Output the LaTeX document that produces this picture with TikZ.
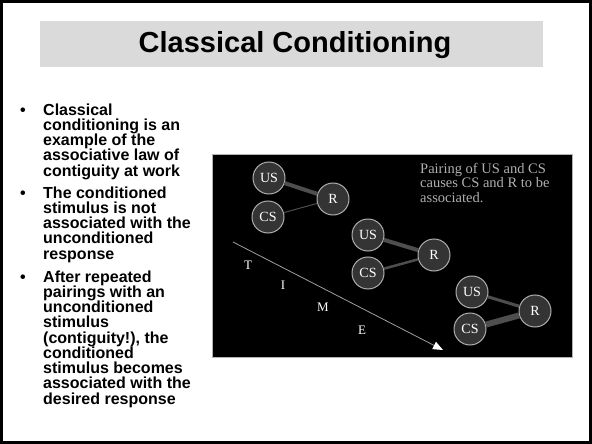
\documentclass[tikz,border=0pt]{standalone}
\usepackage{fontspec}
\setmainfont{Liberation Sans}
\newfontfamily\panelfont{Liberation Serif}
\usepackage{xcolor}
\usetikzlibrary{arrows.meta}
\definecolor{titlegray}{RGB}{218,218,218}
\definecolor{nodegray}{RGB}{52,52,52}
\definecolor{ringgray}{RGB}{175,175,175}
\definecolor{linkgray}{RGB}{78,78,78}
\definecolor{capgray}{RGB}{175,175,175}
\tikzset{
  stim/.style={circle, draw=ringgray, line width=1pt, fill=nodegray, text=white, minimum size=32pt, inner sep=0pt, font=\panelfont\fontsize{14}{14}\selectfont},
  link/.style={draw=linkgray},
  bodytext/.style={anchor=base west, align=left, inner sep=0pt, font=\bfseries\fontsize{16}{15.25}\selectfont},
  timeletter/.style={text=white, inner sep=0pt, font=\panelfont\fontsize{13}{13}\selectfont}
}
\begin{document}
\begin{tikzpicture}[x=1pt,y=-1pt]
\useasboundingbox (0,0) rectangle (592,444);
\fill[white] (0,0) rectangle (592,444);
\draw[line width=3pt] (1.5,1.5) rectangle (590.5,442.5);
\fill[titlegray] (40,21) rectangle (543,67);
\node[anchor=base, inner sep=0pt, font=\bfseries\fontsize{29}{29}\selectfont] (title) at (295,53) {Classical Conditioning};
\node[bodytext] (dot1) at (20,115) {•}; \node[bodytext] (item1) at (43,176) {Classical\\conditioning is an\\example of the\\associative law of\\contiguity at work};
\node[bodytext] (dot2) at (20,198) {•}; \node[bodytext] (item2) at (43,259) {The conditioned\\stimulus is not\\associated with the\\unconditioned\\response};
\node[bodytext] (dot3) at (20,282) {•}; \node[bodytext] (item3) at (43,404) {After repeated\\pairings with an\\unconditioned\\stimulus\\(contiguity!), the\\conditioned\\stimulus becomes\\associated with the\\desired response};
\draw[fill=black, draw=gray!60, line width=0.8pt] (212,154) rectangle (572,357);
\node[anchor=base west, align=left, inner sep=0pt, text=capgray, font=\panelfont\fontsize{14.5}{14.5}\selectfont] (caption) at (420,202) {Pairing of US and CS\\causes CS and R to be\\associated.};
\coordinate (t0) at (233,242); \coordinate (t1) at (443,350);
\draw[gray!75, line width=0.8pt, -{Triangle[color=white, length=10pt, width=8pt]}] (t0) -- (t1);
\node[timeletter] (tT) at (248,265) {T}; \node[timeletter] (tI) at (283,285) {I}; \node[timeletter] (tM) at (323,307) {M}; \node[timeletter] (tE) at (362,330) {E};
\node[stim] (us1) at (269,178) {US}; \node[stim] (cs1) at (268,217) {CS}; \node[stim] (r1) at (333,199) {R};
\draw[link, line width=4pt] (us1) -- (r1); \draw[link, line width=1pt] (cs1) -- (r1);
\node[stim] (us2) at (368,235) {US}; \node[stim] (cs2) at (368,273) {CS}; \node[stim] (r2) at (434,255) {R};
\draw[link, line width=4pt] (us2) -- (r2); \draw[link, line width=2.5pt] (cs2) -- (r2);
\node[stim] (us3) at (472,292) {US}; \node[stim] (cs3) at (470,329) {CS}; \node[stim] (r3) at (535,311) {R};
\draw[link, line width=3pt] (us3) -- (r3); \draw[link, line width=6pt] (cs3) -- (r3);
\end{tikzpicture}
\end{document}
